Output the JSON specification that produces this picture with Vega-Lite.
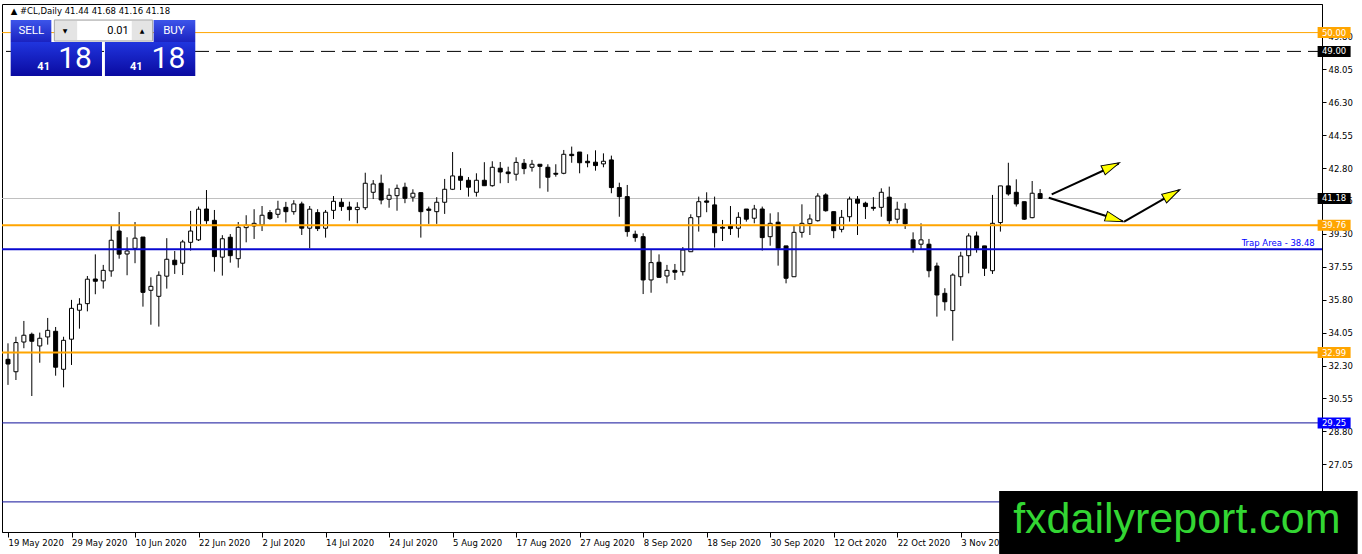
{
  "$schema": "https://vega.github.io/schema/vega-lite/v6.json",
  "width": 1320,
  "height": 528,
  "autosize": {"type": "none"},
  "padding": {"left": 2, "top": 4, "right": 40, "bottom": 22},
  "background": "white",
  "config": {
    "view": {"stroke": "black", "strokeWidth": 1},
    "axis": {"titleOpacity": 0, "grid": false, "labelFont": "DejaVu Sans", "labelFontSize": 8.5, "labelColor": "black", "domainColor": "black", "tickColor": "black", "labelOverlap": false, "labelFlush": false, "labelBound": false}
  },
  "datasets": {
    "candles": [
      {"i":0,"d":"2020-05-19","o":32.63,"h":33.48,"l":31.27,"c":32.38},
      {"i":1,"d":"2020-05-20","o":31.97,"h":33.83,"l":31.53,"c":33.52},
      {"i":2,"d":"2020-05-21","o":33.55,"h":34.67,"l":33.22,"c":33.91},
      {"i":3,"d":"2020-05-22","o":33.96,"h":34.05,"l":30.68,"c":33.59},
      {"i":4,"d":"2020-05-25","o":33.34,"h":34.05,"l":32.45,"c":33.75},
      {"i":5,"d":"2020-05-26","o":33.82,"h":34.83,"l":33.41,"c":34.17},
      {"i":6,"d":"2020-05-27","o":34.12,"h":34.35,"l":31.76,"c":32.21},
      {"i":7,"d":"2020-05-28","o":32.10,"h":33.83,"l":31.14,"c":33.64},
      {"i":8,"d":"2020-05-29","o":33.70,"h":35.79,"l":32.33,"c":35.34},
      {"i":9,"d":"2020-06-01","o":35.24,"h":35.88,"l":34.26,"c":35.56},
      {"i":10,"d":"2020-06-02","o":35.59,"h":37.06,"l":35.18,"c":36.89},
      {"i":11,"d":"2020-06-03","o":36.90,"h":38.21,"l":36.09,"c":36.78},
      {"i":12,"d":"2020-06-04","o":36.80,"h":37.65,"l":36.39,"c":37.36},
      {"i":13,"d":"2020-06-05","o":37.33,"h":39.72,"l":37.02,"c":38.96},
      {"i":14,"d":"2020-06-08","o":39.45,"h":40.46,"l":37.98,"c":38.22},
      {"i":15,"d":"2020-06-09","o":38.23,"h":39.12,"l":37.10,"c":38.39},
      {"i":16,"d":"2020-06-10","o":38.53,"h":39.93,"l":37.74,"c":39.07},
      {"i":17,"d":"2020-06-11","o":39.13,"h":39.13,"l":35.43,"c":36.19},
      {"i":18,"d":"2020-06-12","o":36.30,"h":36.99,"l":34.47,"c":36.51},
      {"i":19,"d":"2020-06-15","o":35.98,"h":37.31,"l":34.37,"c":37.10},
      {"i":20,"d":"2020-06-16","o":37.05,"h":39.07,"l":36.39,"c":37.95},
      {"i":21,"d":"2020-06-17","o":37.90,"h":38.39,"l":37.17,"c":37.66},
      {"i":22,"d":"2020-06-18","o":37.74,"h":38.98,"l":37.11,"c":38.87},
      {"i":23,"d":"2020-06-19","o":38.85,"h":40.52,"l":38.41,"c":39.45},
      {"i":24,"d":"2020-06-22","o":38.98,"h":40.75,"l":38.92,"c":40.61},
      {"i":25,"d":"2020-06-23","o":40.62,"h":41.63,"l":39.83,"c":40.00},
      {"i":26,"d":"2020-06-24","o":40.02,"h":40.57,"l":37.29,"c":38.09},
      {"i":27,"d":"2020-06-25","o":38.06,"h":39.23,"l":37.08,"c":39.04},
      {"i":28,"d":"2020-06-26","o":39.12,"h":39.29,"l":37.77,"c":38.14},
      {"i":29,"d":"2020-06-29","o":37.98,"h":39.93,"l":37.50,"c":39.65},
      {"i":30,"d":"2020-06-30","o":39.63,"h":40.29,"l":38.85,"c":39.76},
      {"i":31,"d":"2020-07-01","o":39.72,"h":40.61,"l":39.03,"c":39.86},
      {"i":32,"d":"2020-07-02","o":39.77,"h":40.78,"l":39.45,"c":40.29},
      {"i":33,"d":"2020-07-03","o":40.43,"h":40.57,"l":40.04,"c":40.11},
      {"i":34,"d":"2020-07-06","o":40.34,"h":41.06,"l":40.14,"c":40.61},
      {"i":35,"d":"2020-07-07","o":40.71,"h":41.00,"l":39.90,"c":40.48},
      {"i":36,"d":"2020-07-08","o":40.48,"h":41.09,"l":40.32,"c":40.89},
      {"i":37,"d":"2020-07-09","o":40.89,"h":41.01,"l":39.24,"c":39.60},
      {"i":38,"d":"2020-07-10","o":39.60,"h":40.78,"l":38.53,"c":40.61},
      {"i":39,"d":"2020-07-13","o":40.43,"h":40.61,"l":39.45,"c":39.58},
      {"i":40,"d":"2020-07-14","o":39.60,"h":40.57,"l":39.10,"c":40.45},
      {"i":41,"d":"2020-07-15","o":40.55,"h":41.31,"l":40.09,"c":41.03},
      {"i":42,"d":"2020-07-16","o":40.98,"h":41.19,"l":40.52,"c":40.75},
      {"i":43,"d":"2020-07-17","o":40.73,"h":41.01,"l":40.00,"c":40.59},
      {"i":44,"d":"2020-07-20","o":40.59,"h":40.98,"l":39.86,"c":40.71},
      {"i":45,"d":"2020-07-21","o":40.69,"h":42.55,"l":40.57,"c":41.99},
      {"i":46,"d":"2020-07-22","o":41.51,"h":42.16,"l":41.15,"c":41.95},
      {"i":47,"d":"2020-07-23","o":41.99,"h":42.45,"l":40.87,"c":41.10},
      {"i":48,"d":"2020-07-24","o":41.14,"h":41.72,"l":40.69,"c":41.35},
      {"i":49,"d":"2020-07-27","o":41.33,"h":41.92,"l":40.53,"c":41.72},
      {"i":50,"d":"2020-07-28","o":41.78,"h":42.02,"l":40.93,"c":41.19},
      {"i":51,"d":"2020-07-29","o":41.25,"h":41.67,"l":41.01,"c":41.46},
      {"i":52,"d":"2020-07-30","o":41.49,"h":41.49,"l":39.10,"c":40.48},
      {"i":53,"d":"2020-07-31","o":40.62,"h":40.75,"l":39.83,"c":40.55},
      {"i":54,"d":"2020-08-03","o":40.48,"h":41.25,"l":39.83,"c":40.98},
      {"i":55,"d":"2020-08-04","o":40.98,"h":42.22,"l":40.36,"c":41.67},
      {"i":56,"d":"2020-08-05","o":41.67,"h":43.65,"l":41.63,"c":42.38},
      {"i":57,"d":"2020-08-06","o":42.36,"h":42.79,"l":41.63,"c":42.15},
      {"i":58,"d":"2020-08-07","o":42.15,"h":42.32,"l":41.28,"c":41.78},
      {"i":59,"d":"2020-08-10","o":41.51,"h":42.52,"l":41.28,"c":42.15},
      {"i":60,"d":"2020-08-11","o":42.15,"h":43.11,"l":41.86,"c":41.86},
      {"i":61,"d":"2020-08-12","o":41.86,"h":43.16,"l":41.81,"c":42.84},
      {"i":62,"d":"2020-08-13","o":42.79,"h":43.12,"l":41.99,"c":42.59},
      {"i":63,"d":"2020-08-14","o":42.59,"h":42.87,"l":42.00,"c":42.50},
      {"i":64,"d":"2020-08-17","o":42.47,"h":43.37,"l":42.13,"c":43.10},
      {"i":65,"d":"2020-08-18","o":43.05,"h":43.28,"l":42.47,"c":42.77},
      {"i":66,"d":"2020-08-19","o":42.84,"h":43.23,"l":42.61,"c":43.00},
      {"i":67,"d":"2020-08-20","o":43.00,"h":43.00,"l":41.72,"c":42.89},
      {"i":68,"d":"2020-08-21","o":42.84,"h":43.00,"l":41.54,"c":42.31},
      {"i":69,"d":"2020-08-24","o":42.52,"h":43.00,"l":42.34,"c":42.47},
      {"i":70,"d":"2020-08-25","o":42.52,"h":43.76,"l":42.47,"c":43.53},
      {"i":71,"d":"2020-08-26","o":43.53,"h":43.94,"l":43.08,"c":43.46},
      {"i":72,"d":"2020-08-27","o":43.65,"h":43.65,"l":42.52,"c":43.08},
      {"i":73,"d":"2020-08-28","o":43.16,"h":43.53,"l":42.84,"c":43.08},
      {"i":74,"d":"2020-08-31","o":43.11,"h":43.74,"l":42.66,"c":42.93},
      {"i":75,"d":"2020-09-01","o":43.02,"h":43.58,"l":42.84,"c":43.16},
      {"i":76,"d":"2020-09-02","o":43.23,"h":43.46,"l":41.46,"c":41.76},
      {"i":77,"d":"2020-09-03","o":41.76,"h":42.02,"l":40.21,"c":41.28},
      {"i":78,"d":"2020-09-04","o":41.28,"h":41.90,"l":39.15,"c":39.42},
      {"i":79,"d":"2020-09-07","o":39.28,"h":39.47,"l":38.88,"c":39.10},
      {"i":80,"d":"2020-09-08","o":39.15,"h":39.33,"l":36.10,"c":36.85},
      {"i":81,"d":"2020-09-09","o":36.85,"h":38.44,"l":36.17,"c":37.77},
      {"i":82,"d":"2020-09-10","o":37.79,"h":38.21,"l":36.96,"c":36.99},
      {"i":83,"d":"2020-09-11","o":37.06,"h":37.65,"l":36.67,"c":37.36},
      {"i":84,"d":"2020-09-14","o":37.36,"h":37.70,"l":36.85,"c":37.26},
      {"i":85,"d":"2020-09-15","o":37.29,"h":38.60,"l":37.08,"c":38.44},
      {"i":86,"d":"2020-09-16","o":38.35,"h":40.34,"l":38.35,"c":40.16},
      {"i":87,"d":"2020-09-17","o":40.21,"h":41.28,"l":39.42,"c":41.01},
      {"i":88,"d":"2020-09-18","o":41.05,"h":41.51,"l":40.45,"c":40.98},
      {"i":89,"d":"2020-09-21","o":40.84,"h":41.28,"l":38.57,"c":39.36},
      {"i":90,"d":"2020-09-22","o":39.65,"h":40.04,"l":38.92,"c":39.60},
      {"i":91,"d":"2020-09-23","o":39.74,"h":40.78,"l":39.24,"c":39.58},
      {"i":92,"d":"2020-09-24","o":39.60,"h":40.45,"l":39.10,"c":40.18},
      {"i":93,"d":"2020-09-25","o":40.62,"h":40.62,"l":39.95,"c":40.08},
      {"i":94,"d":"2020-09-28","o":40.13,"h":40.84,"l":39.86,"c":40.62},
      {"i":95,"d":"2020-09-29","o":40.62,"h":40.75,"l":38.41,"c":39.10},
      {"i":96,"d":"2020-09-30","o":39.15,"h":40.39,"l":38.67,"c":39.86},
      {"i":97,"d":"2020-10-01","o":39.92,"h":40.45,"l":37.61,"c":38.53},
      {"i":98,"d":"2020-10-02","o":38.66,"h":38.66,"l":36.67,"c":36.94},
      {"i":99,"d":"2020-10-05","o":37.02,"h":39.77,"l":37.02,"c":39.38},
      {"i":100,"d":"2020-10-06","o":39.38,"h":40.87,"l":39.10,"c":39.86},
      {"i":101,"d":"2020-10-07","o":39.84,"h":40.34,"l":39.24,"c":40.09},
      {"i":102,"d":"2020-10-08","o":40.00,"h":41.46,"l":39.95,"c":41.31},
      {"i":103,"d":"2020-10-09","o":41.37,"h":41.46,"l":40.48,"c":40.53},
      {"i":104,"d":"2020-10-12","o":40.48,"h":40.48,"l":39.07,"c":39.47},
      {"i":105,"d":"2020-10-13","o":39.54,"h":40.57,"l":39.38,"c":40.18},
      {"i":106,"d":"2020-10-14","o":40.21,"h":41.28,"l":39.95,"c":41.15},
      {"i":107,"d":"2020-10-15","o":41.14,"h":41.31,"l":39.24,"c":40.93},
      {"i":108,"d":"2020-10-16","o":40.93,"h":41.01,"l":40.09,"c":40.75},
      {"i":109,"d":"2020-10-19","o":40.71,"h":41.25,"l":40.53,"c":40.66},
      {"i":110,"d":"2020-10-20","o":40.71,"h":41.72,"l":40.21,"c":41.51},
      {"i":111,"d":"2020-10-21","o":41.25,"h":41.81,"l":39.83,"c":40.00},
      {"i":112,"d":"2020-10-22","o":40.08,"h":41.01,"l":39.86,"c":40.61},
      {"i":113,"d":"2020-10-23","o":40.61,"h":40.93,"l":39.56,"c":39.83},
      {"i":114,"d":"2020-10-26","o":38.98,"h":39.38,"l":38.30,"c":38.51},
      {"i":115,"d":"2020-10-27","o":38.75,"h":39.86,"l":38.50,"c":38.98},
      {"i":116,"d":"2020-10-28","o":38.75,"h":39.03,"l":36.99,"c":37.34},
      {"i":117,"d":"2020-10-29","o":37.59,"h":37.77,"l":34.90,"c":36.05},
      {"i":118,"d":"2020-10-30","o":36.14,"h":36.41,"l":35.22,"c":35.69},
      {"i":119,"d":"2020-11-02","o":35.22,"h":37.20,"l":33.62,"c":37.11},
      {"i":120,"d":"2020-11-03","o":37.02,"h":38.35,"l":36.53,"c":38.12},
      {"i":121,"d":"2020-11-04","o":38.14,"h":39.33,"l":37.20,"c":39.19},
      {"i":122,"d":"2020-11-05","o":39.19,"h":39.42,"l":38.30,"c":38.53},
      {"i":123,"d":"2020-11-06","o":38.66,"h":38.66,"l":37.06,"c":37.47},
      {"i":124,"d":"2020-11-09","o":37.34,"h":41.37,"l":37.17,"c":39.86},
      {"i":125,"d":"2020-11-10","o":39.90,"h":41.85,"l":39.42,"c":41.85},
      {"i":126,"d":"2020-11-11","o":41.85,"h":43.08,"l":41.33,"c":41.42},
      {"i":127,"d":"2020-11-12","o":41.51,"h":42.20,"l":40.75,"c":40.89},
      {"i":128,"d":"2020-11-13","o":41.01,"h":41.01,"l":40.04,"c":40.08},
      {"i":129,"d":"2020-11-16","o":40.16,"h":42.11,"l":40.13,"c":41.46},
      {"i":130,"d":"2020-11-17","o":41.44,"h":41.68,"l":41.16,"c":41.18}
    ],
    "tags": [
      {"p":50.00,"k":"orange"},
      {"p":49.00,"k":"black"},
      {"p":41.18,"k":"black"},
      {"p":39.76,"k":"orange"},
      {"p":32.99,"k":"orange"},
      {"p":29.25,"k":"blue"}
    ]
  },
  "data": {"name": "candles"},
  "layer": [
    {
      "data": {"values": [{}]},
      "mark": {"type": "rule", "color": "#c0c0c0", "strokeWidth": 1},
      "encoding": {"y": {"datum": 41.18, "type": "quantitative"}}
    },
    {
      "mark": {"type": "rule", "color": "black", "strokeWidth": 1},
      "encoding": {
        "x": {
          "field": "i", "type": "quantitative",
          "scale": {"domain": [-0.125, 164.875], "nice": false, "zero": false},
          "axis": {
            "title": null, "orient": "bottom",
            "values": [0, 8, 16, 24, 32, 40, 48, 56, 64, 72, 80, 88, 96, 104, 112, 120],
            "labelExpr": "['19 May 2020','29 May 2020','10 Jun 2020','22 Jun 2020','2 Jul 2020','14 Jul 2020','24 Jul 2020','5 Aug 2020','17 Aug 2020','27 Aug 2020','8 Sep 2020','18 Sep 2020','30 Sep 2020','12 Oct 2020','22 Oct 2020','3 Nov 2020'][round(datum.value / 8)]",
            "labelAlign": "left", "labelDx": 0, "labelPadding": 1, "tickSize": 5,
            "labelOverlap": false, "labelFlush": false, "zindex": 0
          }
        },
        "y": {
          "field": "l", "type": "quantitative",
          "scale": {"domain": [23.45, 51.52], "nice": false, "zero": false},
          "axis": {
            "title": null, "orient": "right",
            "values": [27.05, 28.80, 30.55, 32.30, 34.05, 35.80, 37.55, 39.30, 41.05, 42.80, 44.55, 46.30, 48.05, 49.80],
            "format": ".2f", "tickSize": 4, "labelPadding": 2,
            "labelOverlap": false, "labelFlush": false, "zindex": 0
          }
        },
        "y2": {"field": "h"}
      }
    },
    {
      "mark": {"type": "bar", "size": 4, "stroke": "black", "strokeWidth": 1},
      "encoding": {
        "x": {"field": "i", "type": "quantitative"},
        "y": {"field": "o", "type": "quantitative"},
        "y2": {"field": "c"},
        "fill": {"condition": {"test": "datum.c >= datum.o", "value": "white"}, "value": "black"}
      }
    },
    {
      "data": {"values": [{}]},
      "mark": {"type": "rule", "color": "#FFA500", "strokeWidth": 1},
      "encoding": {"y": {"datum": 50.00, "type": "quantitative"}}
    },
    {
      "data": {"values": [{}]},
      "mark": {"type": "rule", "color": "black", "strokeWidth": 1, "strokeDash": [14, 7]},
      "encoding": {"y": {"datum": 49.00, "type": "quantitative"}}
    },
    {
      "data": {"values": [{}]},
      "mark": {"type": "rule", "color": "#FFA500", "strokeWidth": 2},
      "encoding": {"y": {"datum": 39.76, "type": "quantitative"}}
    },
    {
      "data": {"values": [{}]},
      "mark": {"type": "rule", "color": "#0808d0", "strokeWidth": 2},
      "encoding": {"y": {"datum": 38.48, "type": "quantitative"}}
    },
    {
      "data": {"values": [{}]},
      "mark": {"type": "rule", "color": "#FFA500", "strokeWidth": 2},
      "encoding": {"y": {"datum": 32.99, "type": "quantitative"}}
    },
    {
      "data": {"values": [{}]},
      "mark": {"type": "rule", "color": "#10109a", "strokeWidth": 1},
      "encoding": {"y": {"datum": 29.25, "type": "quantitative"}}
    },
    {
      "data": {"values": [{}]},
      "mark": {"type": "rule", "color": "#10109a", "strokeWidth": 1},
      "encoding": {"y": {"datum": 25.05, "type": "quantitative"}}
    },
    {
      "data": {"values": [{}]},
      "mark": {"type": "text", "text": "Trap Area - 38.48", "color": "#0000ff", "font": "DejaVu Sans", "fontSize": 8.5, "align": "right", "baseline": "bottom", "dy": -1},
      "encoding": {"x": {"datum": 164.59, "type": "quantitative"}, "y": {"datum": 38.48, "type": "quantitative"}}
    },
    {
      "data": {"values": [{}]},
      "mark": {"type": "rule", "color": "black", "strokeWidth": 2},
      "encoding": {"x": {"datum": 131.46, "type": "quantitative"}, "y": {"datum": 41.40, "type": "quantitative"}, "x2": {"datum": 139.9}, "y2": {"datum": 43.04}}
    },
    {
      "data": {"values": [{}]},
      "mark": {"type": "rule", "color": "black", "strokeWidth": 2},
      "encoding": {"x": {"datum": 131.09, "type": "quantitative"}, "y": {"datum": 41.22, "type": "quantitative"}, "x2": {"datum": 140.4}, "y2": {"datum": 39.97}}
    },
    {
      "data": {"values": [{}]},
      "mark": {"type": "rule", "color": "black", "strokeWidth": 2},
      "encoding": {"x": {"datum": 140.59, "type": "quantitative"}, "y": {"datum": 39.95, "type": "quantitative"}, "x2": {"datum": 147.5}, "y2": {"datum": 41.62}}
    },
    {
      "data": {"values": [{}]},
      "mark": {"type": "point", "shape": "M0,0L-2,-0.55L-2,0.55Z", "size": 324, "filled": true, "fill": "#FFFF00", "stroke": "black", "strokeWidth": 1, "opacity": 1, "angle": -24.8},
      "encoding": {"x": {"datum": 139.99, "type": "quantitative"}, "y": {"datum": 43.08, "type": "quantitative"}}
    },
    {
      "data": {"values": [{}]},
      "mark": {"type": "point", "shape": "M0,0L-2,-0.55L-2,0.55Z", "size": 324, "filled": true, "fill": "#FFFF00", "stroke": "black", "strokeWidth": 1, "opacity": 1, "angle": 17.7},
      "encoding": {"x": {"datum": 140.46, "type": "quantitative"}, "y": {"datum": 39.95, "type": "quantitative"}}
    },
    {
      "data": {"values": [{}]},
      "mark": {"type": "point", "shape": "M0,0L-2,-0.55L-2,0.55Z", "size": 324, "filled": true, "fill": "#FFFF00", "stroke": "black", "strokeWidth": 1, "opacity": 1, "angle": -29.7},
      "encoding": {"x": {"datum": 147.59, "type": "quantitative"}, "y": {"datum": 41.65, "type": "quantitative"}}
    },
    {
      "data": {"name": "tags"},
      "mark": {"type": "point", "shape": "M-1,-0.3333L1,-0.3333L1,0.3333L-1,0.3333Z", "size": 1089, "filled": true, "opacity": 1, "strokeWidth": 0},
      "encoding": {
        "x": {"datum": 167.03, "type": "quantitative"},
        "y": {"field": "p", "type": "quantitative"},
        "color": {"field": "k", "type": "nominal", "scale": {"domain": ["orange", "black", "blue"], "range": ["#FFA500", "#000000", "#0000FF"]}, "legend": null}
      }
    },
    {
      "data": {"name": "tags"},
      "mark": {"type": "text", "color": "white", "font": "DejaVu Sans", "fontSize": 8.5, "align": "center", "baseline": "middle"},
      "encoding": {
        "x": {"datum": 167.03, "type": "quantitative"},
        "y": {"field": "p", "type": "quantitative"},
        "text": {"field": "p", "type": "quantitative", "format": ".2f"}
      }
    },
    {
      "data": {"values": [{}]},
      "mark": {"type": "text", "text": "▲ #CL,Daily  41.44 41.68 41.16 41.18", "color": "black", "font": "DejaVu Sans", "fontSize": 8.5, "align": "left", "baseline": "middle"},
      "encoding": {"x": {"datum": 0.34, "type": "quantitative"}, "y": {"datum": 51.15, "type": "quantitative"}}
    },
    {
      "data": {"values": [{}]},
      "mark": {"type": "rect", "fill": {"gradient": "linear", "x1": 0, "y1": 0, "x2": 0, "y2": 1, "stops": [{"offset": 0, "color": "#3d55ea"}, {"offset": 1, "color": "#1a22c0"}]}},
      "encoding": {"x": {"datum": 0.34, "type": "quantitative"}, "x2": {"datum": 5.46}, "y": {"datum": 50.67, "type": "quantitative"}, "y2": {"datum": 49.50}}
    },
    {
      "data": {"values": [{}]},
      "mark": {"type": "rect", "fill": {"gradient": "linear", "x1": 0, "y1": 0, "x2": 0, "y2": 1, "stops": [{"offset": 0, "color": "#3d55ea"}, {"offset": 1, "color": "#1a22c0"}]}},
      "encoding": {"x": {"datum": 18.34, "type": "quantitative"}, "x2": {"datum": 23.59}, "y": {"datum": 50.67, "type": "quantitative"}, "y2": {"datum": 49.50}}
    },
    {
      "data": {"values": [{}]},
      "mark": {"type": "rect", "fill": "#e4e4e4", "stroke": "#a8a8a8", "strokeWidth": 1},
      "encoding": {"x": {"datum": 5.84, "type": "quantitative"}, "x2": {"datum": 18.21}, "y": {"datum": 50.67, "type": "quantitative"}, "y2": {"datum": 49.55}}
    },
    {
      "data": {"values": [{}]},
      "mark": {"type": "rect", "fill": "white"},
      "encoding": {"x": {"datum": 8.71, "type": "quantitative"}, "x2": {"datum": 15.59}, "y": {"datum": 50.62, "type": "quantitative"}, "y2": {"datum": 49.60}}
    },
    {
      "data": {"values": [{}]},
      "mark": {"type": "rect", "fill": {"gradient": "linear", "x1": 0, "y1": 0, "x2": 0, "y2": 1, "stops": [{"offset": 0, "color": "#2035de"}, {"offset": 1, "color": "#0a0aa0"}]}},
      "encoding": {"x": {"datum": 0.34, "type": "quantitative"}, "x2": {"datum": 11.84}, "y": {"datum": 49.50, "type": "quantitative"}, "y2": {"datum": 47.69}}
    },
    {
      "data": {"values": [{}]},
      "mark": {"type": "rect", "fill": {"gradient": "linear", "x1": 0, "y1": 0, "x2": 0, "y2": 1, "stops": [{"offset": 0, "color": "#2035de"}, {"offset": 1, "color": "#0a0aa0"}]}},
      "encoding": {"x": {"datum": 12.21, "type": "quantitative"}, "x2": {"datum": 23.59}, "y": {"datum": 49.50, "type": "quantitative"}, "y2": {"datum": 47.69}}
    },
    {
      "data": {"values": [{}]},
      "mark": {"type": "text", "text": "SELL", "color": "white", "font": "Roboto", "fontSize": 11.5, "align": "center", "baseline": "middle"},
      "encoding": {"x": {"datum": 2.93, "type": "quantitative"}, "y": {"datum": 50.07, "type": "quantitative"}}
    },
    {
      "data": {"values": [{}]},
      "mark": {"type": "text", "text": "BUY", "color": "white", "font": "Roboto", "fontSize": 11.5, "align": "center", "baseline": "middle"},
      "encoding": {"x": {"datum": 20.9, "type": "quantitative"}, "y": {"datum": 50.07, "type": "quantitative"}}
    },
    {
      "data": {"values": [{}]},
      "mark": {"type": "text", "text": "0.01", "color": "black", "font": "Roboto", "fontSize": 11, "align": "right", "baseline": "middle"},
      "encoding": {"x": {"datum": 15.2, "type": "quantitative"}, "y": {"datum": 50.07, "type": "quantitative"}}
    },
    {
      "data": {"values": [{}]},
      "mark": {"type": "text", "text": "▼", "color": "black", "font": "DejaVu Sans", "fontSize": 6, "align": "center", "baseline": "middle"},
      "encoding": {"x": {"datum": 7.2, "type": "quantitative"}, "y": {"datum": 50.1, "type": "quantitative"}}
    },
    {
      "data": {"values": [{}]},
      "mark": {"type": "text", "text": "▲", "color": "black", "font": "DejaVu Sans", "fontSize": 6, "align": "center", "baseline": "middle"},
      "encoding": {"x": {"datum": 16.9, "type": "quantitative"}, "y": {"datum": 50.1, "type": "quantitative"}}
    },
    {
      "data": {"values": [{}]},
      "mark": {"type": "text", "text": "41", "color": "white", "font": "Roboto", "fontSize": 11, "fontWeight": "bold", "align": "center", "baseline": "middle"},
      "encoding": {"x": {"datum": 4.49, "type": "quantitative"}, "y": {"datum": 48.15, "type": "quantitative"}}
    },
    {
      "data": {"values": [{}]},
      "mark": {"type": "text", "text": "18", "color": "white", "font": "Roboto", "fontSize": 30, "align": "center", "baseline": "middle"},
      "encoding": {"x": {"datum": 8.44, "type": "quantitative"}, "y": {"datum": 48.6, "type": "quantitative"}}
    },
    {
      "data": {"values": [{}]},
      "mark": {"type": "text", "text": "41", "color": "white", "font": "Roboto", "fontSize": 11, "fontWeight": "bold", "align": "center", "baseline": "middle"},
      "encoding": {"x": {"datum": 16.15, "type": "quantitative"}, "y": {"datum": 48.15, "type": "quantitative"}}
    },
    {
      "data": {"values": [{}]},
      "mark": {"type": "text", "text": "18", "color": "white", "font": "Roboto", "fontSize": 30, "align": "center", "baseline": "middle"},
      "encoding": {"x": {"datum": 20.21, "type": "quantitative"}, "y": {"datum": 48.6, "type": "quantitative"}}
    },
    {
      "data": {"values": [{}]},
      "mark": {"type": "rect", "fill": "black"},
      "encoding": {"x": {"datum": 124.84, "type": "quantitative"}, "x2": {"datum": 170}, "y": {"datum": 25.63, "type": "quantitative"}, "y2": {"datum": 22.2}}
    },
    {
      "data": {"values": [{}]},
      "mark": {"type": "text", "text": "fxdailyreport.com", "color": "#33d633", "font": "Liberation Sans", "fontSize": 43, "align": "center", "baseline": "alphabetic"},
      "encoding": {"x": {"datum": 147.22, "type": "quantitative"}, "y": {"datum": 23.4, "type": "quantitative"}}
    }
  ]
}
